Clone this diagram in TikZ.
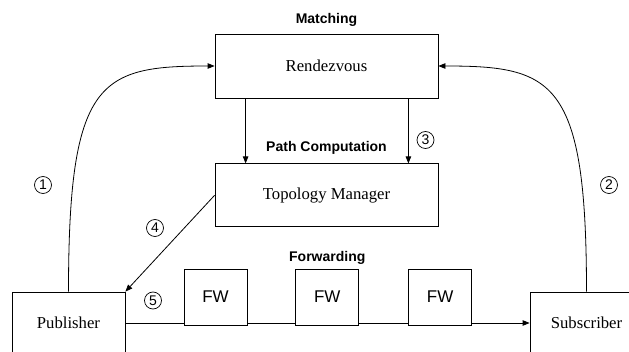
\documentclass[tikz,border=0pt]{standalone}
\usepackage{fontspec}
\setmainfont{Liberation Serif}
\newfontfamily\arialfont{Liberation Sans}
\usepackage{tikz}
\usetikzlibrary{positioning,arrows.meta,calc}

\begin{document}
\begin{tikzpicture}[
  x=1pt, y=1pt,
  node distance=4pt,
  blk/.style={draw, line width=0.8pt, minimum width=223pt,
              minimum height=64pt, inner sep=0pt,
              font=\fontsize{16.7}{18}\selectfont},
  ends/.style={draw, line width=0.8pt, minimum width=113pt,
               minimum height=62pt, inner sep=0pt,
               font=\fontsize{16.7}{18}\selectfont},
  fwbox/.style={draw, line width=0.8pt, minimum width=63pt,
                minimum height=56pt, inner sep=0pt,
                font=\arialfont\fontsize{17}{18}\selectfont},
  hdr/.style={inner sep=0pt, font=\arialfont\bfseries\fontsize{14}{16}\selectfont},
  num/.style={circle, draw, line width=0.7pt, minimum size=17pt,
              inner sep=0pt, font=\arialfont\fontsize{14}{15}\selectfont},
  link/.style={line width=0.8pt},
  arr/.style={line width=0.8pt, -{Triangle[length=7pt,width=5.5pt]}}
]
  \useasboundingbox (0,0) rectangle (629,351);

  % Matching and path computation
  \node[blk] (rdv) at (326.5,285) {Rendezvous};
  \node[hdr, above=7pt of rdv] (matchhdr) {Matching};
  \node[blk, minimum height=63pt, below=65pt of rdv] (tm) {Topology Manager};
  \node[hdr, above=9pt of tm] (pathhdr) {Path Computation};

  % End points
  \node[ends] (pub) at (68.5,28) {Publisher};
  \node[ends] (sub) at (586.5,28) {Subscriber};

  % Forwarding nodes
  \node[fwbox] (fw1) at (215.5,54) {FW};
  \node[fwbox, right=48pt of fw1] (fw2) {FW};
  \node[fwbox, right=49pt of fw2] (fw3) {FW};
  \node[hdr, above=4pt of fw2] (fwdhdr) {Forwarding};

  % Step numbers
  \node[num] (n1) at (43,166) {1};
  \node[num] (n2) at (609,166) {2};
  \node[num] (n3) at (425.5,211) {3};
  \node[num] (n4) at (155,123) {4};
  \node[num] (n5) at (153,50.5) {5};

  % Publish / subscribe requests
  \draw[arr] (pub.north) .. controls +(0,212) and +(-115,0) .. (rdv.west);
  \draw[arr] (sub.north) .. controls +(0,212) and +(115,0) .. (rdv.east);

  % Rendezvous to topology manager
  \draw[arr] ([xshift=31pt]rdv.south west) -- ([xshift=31pt]tm.north west);
  \draw[arr] ([xshift=-30pt]rdv.south east) -- ([xshift=-30pt]tm.north east);

  % Forwarding identifier to publisher
  \draw[arr] (tm.west) -- (pub.north east);

  % Data path
  \draw[link] (pub.east) -- (pub.east -| fw1.west);
  \draw[link] (fw1.east |- pub.east) -- (fw2.west |- pub.east);
  \draw[link] (fw2.east |- pub.east) -- (fw3.west |- pub.east);
  \draw[arr] (fw3.east |- pub.east) -- (sub.west);
\end{tikzpicture}
\end{document}
